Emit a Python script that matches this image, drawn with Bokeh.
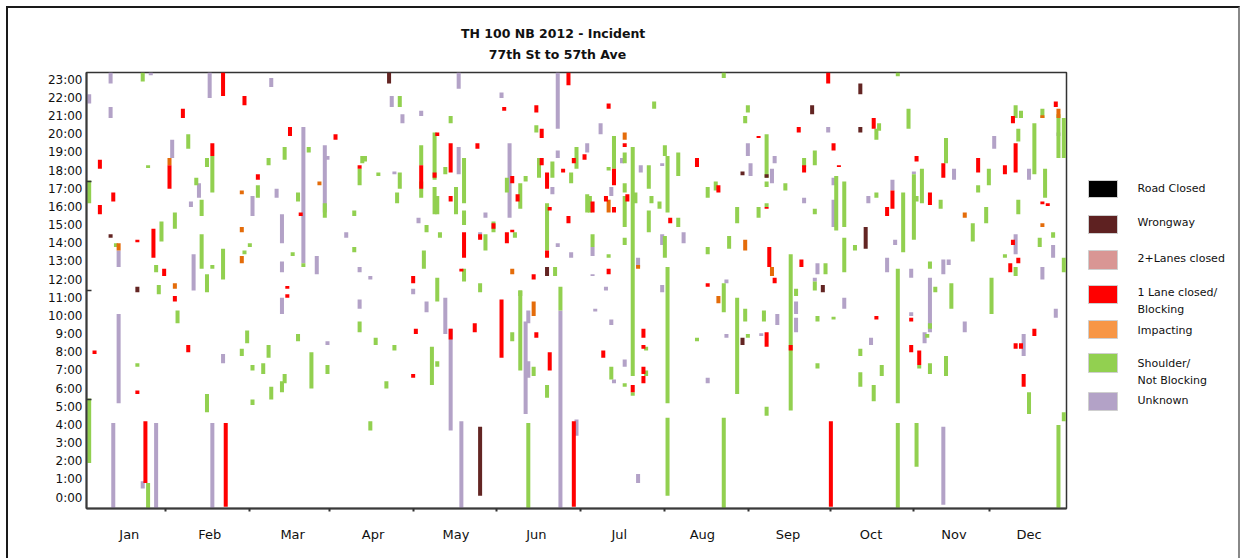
from bokeh.plotting import figure
from bokeh.layouts import column, row
from bokeh.models import FixedTicker, CustomJSTickFormatter, ColumnDataSource, Range1d
from bokeh.core.properties import value
from bokeh.embed import file_html
from bokeh.resources import INLINE

# ---------------- text ----------------
TITLE_1 = "TH 100 NB 2012  -  Incident"
TITLE_2 = "77th St to 57th Ave"

months = ["Jan", "Feb", "Mar", "Apr", "May", "Jun", "Jul", "Aug", "Sep", "Oct", "Nov", "Dec"]
month_label_days = [16, 46, 77, 107, 138, 168, 199, 230, 262, 293, 324, 352]
month_boundary_days = [29.5, 60.8, 90.7, 122.1, 153.0, 184.5, 215.8, 247.2, 277.8, 308.8, 337.2]
hour_label_pos = [h + 0.6 for h in range(24)]   # "h:00" labels sit 0.6 h above the hour
hour_minor = [6, 12, 18]

categories = ["Road Closed", "Wrongway", "2+Lanes closed", "1 Lane closed/\nBlocking",
              "Impacting", "Shoulder/\nNot Blocking", "Unknown"]
legend_colors = ["#000000", "#5E2121", "#D99694", "#FF0000", "#F79646", "#92D050", "#B3A2C7"]
bar_colors = ["#000000", "#632523", "#D99694", "#FF0000", "#E46C0A", "#92D050", "#B3A2C7"]

# ---------------- data: (day of year, start hour, end hour) ----------------
road_closed = []
lanes2_closed = []

wrongway = [
    (9, 14.9, 15.1), (19, 11.9, 12.2), (113, 23.4, 24.0), (147, 0.7, 4.5), (172, 12.8, 13.3),
    (245, 9.0, 9.4), (245, 18.35, 18.55), (254, 18.2, 18.4), (271, 21.7, 22.2), (275, 11.9, 12.3),
    (289, 22.8, 23.4), (289, 20.7, 21.0), (291, 14.3, 15.5)]

lane1_closed = [
    (5, 18.7, 19.2), (10, 16.9, 17.4), (5, 16.2, 16.7), (19, 14.65, 14.8), (25, 13.8, 15.4),
    (29, 12.8, 13.2), (31, 17.6, 18.9), (36, 21.5, 22.0), (47, 19.4, 20.1), (51, 22.7, 24.0),
    (59, 22.2, 22.7), (64, 18.1, 18.4), (75, 12.1, 12.25), (75, 11.6, 11.8), (76, 20.5, 21.0),
    (93, 20.3, 20.6), (80, 16.1, 16.3), (33, 11.4, 11.7), (3, 8.5, 8.7), (19, 6.3, 6.5),
    (38, 8.6, 9.0), (22, 1.4, 4.8), (52, 0.1, 4.7),
    (156, 21.9, 22.1), (168, 21.8, 22.2), (170, 20.4, 20.9), (131, 20.5, 20.7), (136, 18.5, 20.1),
    (146, 19.8, 20.1), (125, 17.6, 18.9), (130, 18.2, 18.5), (102, 18.7, 18.9), (136, 16.9, 17.2),
    (161, 16.9, 17.3), (159, 17.9, 18.3), (170, 18.9, 19.3), (172, 17.6, 18.5), (182, 19.0, 19.3),
    (186, 19.2, 19.5), (178, 18.5, 18.7), (173, 16.4, 16.6), (172, 13.8, 14.2), (180, 15.7, 16.1),
    (152, 15.4, 15.7), (147, 14.8, 15.1), (157, 14.6, 15.2), (159, 15.2, 15.35), (141, 13.8, 15.2),
    (122, 12.4, 12.8), (140, 13.05, 13.2), (167, 12.6, 12.9), (180, 23.3, 24.0),
    (136, 9.3, 9.9), (123, 9.6, 9.9), (145, 9.7, 10.2), (122, 7.2, 7.4), (155, 8.3, 11.5),
    (168, 9.4, 9.7), (173, 7.6, 8.6), (182, 0.1, 4.8),
    (277, 23.4, 24.0), (195, 22.0, 22.3), (201, 19.9, 20.1), (266, 20.7, 21.0), (251, 20.4, 20.5),
    (197, 17.8, 18.7), (202, 16.9, 17.3), (194, 16.9, 17.2), (197, 16.3, 16.6), (189, 16.3, 16.9),
    (195, 12.9, 13.2), (218, 15.7, 16.0), (228, 18.8, 19.3), (236, 17.4, 17.8), (232, 12.2, 12.4),
    (254, 16.5, 16.6), (255, 13.3, 14.4), (257, 12.4, 12.7), (268, 18.5, 18.9), (279, 19.7, 20.1),
    (281, 18.8, 18.9), (267, 13.3, 13.7), (263, 8.7, 9.0),
    (208, 9.4, 9.9), (208, 8.8, 9.0), (193, 8.3, 8.7), (204, 6.4, 6.8), (208, 7.4, 7.8), (208, 6.9, 7.3),
    (254, 8.9, 9.7), (278, 0.1, 4.8),
    (294, 20.9, 21.5), (362, 22.1, 22.4), (346, 21.2, 21.6), (347, 18.5, 20.1), (343, 18.4, 18.9),
    (310, 19.1, 19.4), (320, 18.2, 19.0), (333, 18.5, 19.3), (301, 16.5, 17.5), (299, 16.1, 16.6),
    (315, 16.7, 17.4), (357, 16.75, 16.9), (359, 16.65, 16.8), (345, 13.0, 13.5), (346, 14.5, 14.8),
    (348, 13.5, 13.8),
    (295, 10.4, 10.6), (308, 10.3, 10.5), (354, 9.5, 9.9), (308, 8.6, 9.0), (347, 8.8, 9.1),
    (349, 8.8, 9.1), (311, 7.9, 8.7), (350, 6.7, 7.4)]

impacting = [
    (31, 18.9, 19.3), (87, 17.8, 18.0), (58, 17.3, 17.5), (58, 15.2, 15.5), (58, 13.5, 13.9),
    (12, 14.2, 14.6), (33, 12.1, 12.4), (159, 12.9, 13.2), (167, 10.6, 11.4), (201, 20.3, 20.7),
    (195, 16.3, 17.0), (206, 13.2, 13.4), (236, 11.3, 11.7), (246, 14.2, 14.8), (256, 12.8, 13.3),
    (328, 16.0, 16.3), (357, 21.5, 21.65), (363, 21.5, 22.0), (357, 15.5, 15.7)]

unknown = [
    (1, 22.3, 22.8), (9, 23.4, 24.0), (9, 21.5, 22.1), (24, 23.85, 24.0), (46, 22.6, 24.0),
    (69, 23.2, 23.7), (81, 13.5, 21.0), (89, 16.3, 20.0), (90, 19.2, 19.4), (71, 17.1, 17.6),
    (62, 16.1, 17.2), (73, 14.6, 16.2), (73, 13.0, 13.6), (86, 12.9, 13.9), (40, 12.0, 14.0),
    (42, 17.1, 17.9), (39, 16.6, 16.9), (32, 19.3, 20.3), (12, 13.3, 14.2),
    (12, 5.8, 10.7), (10, 0.0, 4.7), (21, 1.1, 1.5), (26, 0.0, 4.7), (47, 0.0, 4.7), (51, 8.0, 8.5),
    (73, 10.7, 11.6), (90, 9.0, 9.2),
    (139, 23.1, 24.0), (176, 20.9, 24.0), (114, 22.1, 22.7), (118, 21.2, 21.7), (125, 21.6, 21.9),
    (155, 22.6, 22.9), (139, 18.4, 19.9), (158, 16.0, 20.1), (176, 19.3, 19.7), (187, 19.6, 20.1),
    (174, 17.3, 17.7), (115, 18.4, 18.55), (124, 15.7, 16.0), (149, 16.0, 16.3), (147, 14.9, 15.2),
    (97, 14.9, 15.2), (102, 13.0, 13.3), (106, 12.6, 12.8), (122, 11.8, 12.1), (176, 14.4, 14.6),
    (181, 13.8, 14.1), (177, 0.0, 10.9),
    (102, 11.0, 11.5), (127, 10.8, 11.4), (134, 9.6, 11.6), (136, 4.3, 9.9), (140, 0.0, 4.8),
    (164, 5.2, 10.3), (165, 10.2, 10.9), (165, 7.2, 8.1), (183, 4.0, 4.9),
    (192, 20.6, 21.2), (277, 20.7, 21.0), (200, 19.0, 19.3), (196, 17.2, 17.7), (189, 13.9, 14.4),
    (189, 12.8, 12.9), (194, 12.0, 12.2), (206, 13.3, 13.8), (207, 18.5, 18.9), (215, 18.85, 19.0),
    (215, 14.5, 15.1), (223, 14.6, 15.2), (215, 11.9, 12.3), (239, 12.4, 12.6), (247, 19.4, 20.1),
    (248, 18.3, 19.0), (256, 17.9, 18.7), (257, 19.0, 19.4), (268, 16.8, 17.1), (279, 17.8, 18.2),
    (279, 15.5, 17.0), (273, 12.9, 13.5), (272, 12.5, 12.7), (265, 10.7, 11.4), (265, 9.7, 10.5),
    (190, 10.85, 11.0), (196, 10.1, 10.4), (201, 7.8, 8.2), (197, 6.9, 7.1), (206, 1.4, 1.9),
    (258, 10.1, 10.7), (239, 9.4, 9.6), (252, 9.5, 9.65), (232, 6.9, 7.2), (283, 11.0, 11.6),
    (339, 19.8, 20.5), (352, 18.1, 18.7), (324, 18.1, 18.7), (309, 18.4, 18.55), (301, 17.5, 18.1),
    (292, 16.8, 17.2), (302, 14.5, 14.8), (347, 14.0, 15.1), (361, 13.8, 14.5), (357, 12.6, 13.3),
    (299, 13.0, 13.8), (308, 12.7, 13.2), (320, 12.9, 13.7), (322, 13.4, 13.7), (315, 9.7, 12.7),
    (363, 20.5, 20.7),
    (362, 10.5, 11.0), (308, 10.6, 10.8), (328, 9.7, 10.3), (313, 9.1, 9.7), (293, 9.0, 9.4),
    (350, 8.4, 9.6), (320, 0.2, 4.5)]

shoulder = [
    (1, 16.8, 18.05), (1, 2.5, 6.05), (21, 23.5, 24.0), (23, 18.75, 18.9), (79, 16.9, 17.4),
    (81, 13.3, 13.5), (83, 19.6, 19.9), (89, 16.0, 16.8), (74, 19.2, 19.9), (68, 18.9, 19.3),
    (64, 17.1, 17.8), (59, 14.0, 14.2), (61, 14.4, 14.6), (77, 13.9, 14.1), (51, 12.6, 14.3),
    (43, 13.2, 15.1), (47, 13.2, 13.4), (45, 11.9, 12.9), (43, 16.1, 17.0), (41, 17.8, 18.2),
    (47, 17.4, 19.4), (45, 18.8, 19.3), (38, 19.8, 20.6), (28, 14.7, 15.8), (33, 15.4, 16.3),
    (11, 14.4, 14.6), (26, 13.0, 13.4), (27, 11.8, 12.3),
    (34, 10.2, 10.9), (19, 7.8, 8.0), (45, 5.3, 6.3), (23, 0.0, 1.4), (60, 9.1, 9.8), (58, 8.4, 8.8),
    (62, 7.6, 7.9), (68, 8.3, 9.0), (66, 7.4, 8.0), (62, 5.7, 6.0), (69, 6.0, 6.7), (73, 6.4, 7.0),
    (74, 6.9, 7.4), (79, 9.2, 9.6), (84, 6.6, 8.6), (90, 7.4, 7.9),
    (117, 22.1, 22.7), (136, 21.2, 21.6), (168, 20.7, 21.1), (130, 18.1, 20.7), (134, 18.4, 18.8),
    (141, 16.8, 19.3), (125, 18.9, 20.0), (125, 17.1, 18.0), (103, 19.0, 19.4), (104, 19.1, 19.4),
    (102, 17.8, 18.7), (109, 18.3, 18.5), (117, 17.6, 18.5), (116, 16.8, 17.4), (130, 16.2, 17.7),
    (131, 16.2, 17.2), (138, 16.2, 17.7), (141, 15.6, 16.4), (157, 17.4, 18.2), (162, 16.5, 17.9),
    (164, 18.0, 18.3), (169, 18.2, 19.3), (174, 18.2, 19.1), (183, 18.7, 19.9), (181, 17.9, 18.5),
    (187, 16.3, 17.3), (172, 14.2, 16.8), (100, 16.1, 16.4), (127, 15.2, 15.6), (132, 14.9, 15.2),
    (152, 15.2, 15.8), (149, 14.2, 15.1), (160, 14.9, 15.2), (100, 14.1, 14.4), (126, 13.2, 14.2),
    (141, 12.5, 13.2), (131, 11.4, 12.7), (147, 11.9, 12.4), (175, 12.8, 13.3), (162, 11.7, 12.0),
    (177, 10.9, 12.2),
    (102, 9.7, 10.3), (108, 9.0, 9.4), (115, 8.7, 9.0), (129, 6.8, 8.9), (131, 7.8, 8.1),
    (112, 6.6, 7.0), (106, 4.3, 4.8), (159, 9.2, 9.7), (162, 7.6, 12.0), (167, 7.3, 7.8),
    (172, 6.1, 6.8), (165, 0.0, 4.7),
    (238, 23.7, 24.0), (212, 22.0, 22.4), (247, 21.8, 22.2), (246, 21.2, 21.6), (197, 18.7, 20.5),
    (195, 18.6, 18.8), (201, 19.0, 19.6), (204, 7.3, 19.9), (205, 16.8, 17.4), (201, 17.4, 17.9),
    (201, 15.5, 17.2), (188, 16.3, 17.2), (189, 14.4, 15.1), (195, 13.8, 14.0), (201, 14.5, 14.9),
    (210, 17.6, 18.9), (211, 16.8, 17.2), (210, 15.2, 16.4), (214, 16.5, 16.9), (216, 19.4, 20.0),
    (217, 16.3, 19.4), (221, 18.3, 19.6), (221, 15.5, 16.0), (216, 13.8, 15.0), (217, 5.8, 13.3),
    (217, 0.7, 5.0), (232, 17.1, 17.7), (235, 17.5, 18.0), (240, 14.3, 15.0), (232, 14.0, 14.4),
    (238, 10.8, 12.4), (238, 0.0, 5.0), (243, 15.7, 16.6), (251, 16.0, 16.6), (254, 18.2, 20.6),
    (254, 17.7, 18.0), (261, 17.5, 17.9), (263, 5.4, 14.0), (265, 11.7, 12.1), (268, 18.8, 19.3),
    (272, 18.9, 19.7), (272, 16.2, 16.5), (276, 12.9, 13.5), (272, 12.0, 12.5), (280, 15.3, 18.3),
    (283, 15.5, 18.0), (283, 13.0, 14.9), (254, 16.6, 16.8),
    (209, 8.7, 8.9), (196, 7.1, 7.8), (201, 6.7, 6.9), (209, 7.3, 7.6), (204, 6.2, 6.4),
    (246, 10.3, 11.0), (243, 6.3, 11.6), (253, 10.3, 10.9), (247, 9.4, 9.6), (228, 9.2, 9.4),
    (254, 5.1, 5.6), (273, 10.3, 10.6), (279, 10.4, 10.55), (273, 7.7, 8.0),
    (303, 23.8, 24.0), (295, 20.3, 20.9), (296, 20.8, 21.2), (307, 20.9, 22.0), (347, 21.5, 22.2),
    (349, 21.5, 21.9), (357, 21.5, 22.0), (363, 19.3, 21.7), (365, 19.3, 21.5), (354, 18.4, 21.2),
    (348, 20.2, 20.9), (321, 19.0, 20.4), (337, 17.8, 18.7), (333, 17.4, 17.8), (358, 17.1, 18.7),
    (309, 14.8, 18.4), (312, 16.8, 18.7), (310, 16.9, 17.2), (305, 14.1, 17.4), (295, 17.1, 17.4),
    (319, 16.5, 17.0), (336, 15.7, 16.6), (331, 14.7, 15.7), (348, 16.2, 17.0), (361, 14.9, 15.2),
    (356, 14.4, 14.9), (287, 14.2, 14.5), (343, 13.8, 14.0), (347, 12.8, 13.3), (365, 13.0, 13.8),
    (303, 5.8, 13.2), (303, 0.0, 4.7), (315, 13.2, 13.6), (317, 11.9, 12.2), (315, 9.9, 10.2),
    (314, 9.4, 9.6), (323, 11.0, 12.4), (338, 10.7, 12.7),
    (289, 8.4, 8.8), (311, 7.7, 7.9), (315, 7.4, 8.0), (321, 7.3, 8.4), (289, 6.7, 7.5),
    (294, 5.9, 6.8), (297, 7.3, 7.9), (352, 5.2, 6.4), (365, 4.8, 5.3), (363, 0.0, 4.6),
    (310, 2.3, 4.7)]

series = [road_closed, wrongway, lanes2_closed, lane1_closed, impacting, shoulder, unknown]

FONT = "DejaVu Sans"
DAYS = 366

# ---------------- layout sizes (page px) ----------------
TITLE_H = 58
CHART_W, CHART_H = 1070, 492
LEG_W = 160
FRAME_TOP, FRAME_BOTTOM = 72, 508     # page rows of the plotting frame (legend frame aligns to it)


def blank_fig(w, h, xr, yr):
    f = figure(width=w, height=h, x_range=xr, y_range=yr, output_backend="svg",
               toolbar_location=None, min_border=0, x_axis_location=None, y_axis_location=None,
               background_fill_color="white", border_fill_color="white")
    f.grid.visible = False
    f.outline_line_color = None
    return f


# ---- title strip: coordinates are page pixels ----
tf = blank_fig(CHART_W + LEG_W, TITLE_H, Range1d(8, 8 + CHART_W + LEG_W), Range1d(8 + TITLE_H, 8))
tf.text(x=[557, 557], y=[33, 54], text=[TITLE_1, TITLE_2], text_align="center",
        text_baseline="middle", text_font=value(FONT), text_font_style="bold",
        text_font_size="12.5px", text_color="#111111")

# ---- main chart ----
p = figure(width=CHART_W, height=CHART_H, x_range=(0, DAYS), y_range=(0, 24),
           output_backend="svg", toolbar_location=None,
           min_border_left=78, min_border_right=12, min_border_top=6, min_border_bottom=50,
           background_fill_color="white", border_fill_color="white")
p.xgrid.visible = False
p.ygrid.visible = False
p.outline_line_color = "#333333"
p.outline_line_width = 1.5

# draw order: unknown, shoulder, impacting, 1 lane, 2+ lanes, wrongway, road closed
for idx in [6, 5, 4, 3, 2, 1, 0]:
    data = series[idx]
    if not data:
        continue
    src = ColumnDataSource(dict(x=[d[0] for d in data],
                                bottom=[d[1] for d in data],
                                top=[d[2] for d in data]))
    p.vbar(x="x", bottom="bottom", top="top", width=1.5, source=src,
           fill_color=bar_colors[idx], line_color=None)

p.xaxis.ticker = FixedTicker(ticks=month_label_days, minor_ticks=month_boundary_days)
p.xaxis.major_label_overrides = {d: m for d, m in zip(month_label_days, months)}
p.xaxis.major_tick_line_color = None
p.xaxis.major_tick_in = 0
p.xaxis.major_tick_out = 0
p.xaxis.minor_tick_in = 0
p.xaxis.minor_tick_out = 3
p.xaxis.minor_tick_line_width = 2
p.xaxis.minor_tick_line_color = "#333333"
p.xaxis.major_label_standoff = 15
p.xaxis.major_label_text_font = FONT
p.xaxis.major_label_text_font_size = "13px"
p.xaxis.major_label_text_color = "#111111"

p.yaxis.ticker = FixedTicker(ticks=hour_label_pos, minor_ticks=hour_minor)
p.yaxis.formatter = CustomJSTickFormatter(code="return Math.round(tick - 0.6) + ':00';")
p.yaxis.major_tick_line_color = None
p.yaxis.major_tick_in = 0
p.yaxis.major_tick_out = 0
p.yaxis.minor_tick_in = 5
p.yaxis.minor_tick_out = 0
p.yaxis.minor_tick_line_width = 1.5
p.yaxis.minor_tick_line_color = "#333333"
p.yaxis.major_label_standoff = 4
p.yaxis.major_label_text_font = FONT
p.yaxis.major_label_text_font_size = "12px"
p.yaxis.major_label_text_color = "#111111"
for ax in (p.xaxis, p.yaxis):
    ax.axis_line_color = "#3a3a3a"
    ax.axis_line_width = 2

# ---- legend panel: coordinates are page pixels (its frame is row-aligned with the chart frame) ----
LX0 = 8 + CHART_W
lf = blank_fig(LEG_W, CHART_H, Range1d(LX0, LX0 + LEG_W), Range1d(FRAME_BOTTOM, FRAME_TOP))
swatch_rows = [(180, 197), (215, 233), (250, 269), (285, 303), (320, 338), (353, 372), (392, 410)]
label_rows = [[188], [222], [258], [292, 309], [330], [363, 380], [400]]
lf.quad(left=[1088] * 7, right=[1117] * 7,
        top=[r[0] for r in swatch_rows], bottom=[r[1] for r in swatch_rows],
        fill_color=legend_colors, line_color="#cfcfcf", line_width=1)
lab_x, lab_y, lab_t = [], [], []
for i, cat in enumerate(categories):
    for line, ypx in zip(cat.split("\n"), label_rows[i]):
        lab_x.append(1137)
        lab_y.append(ypx)
        lab_t.append(line)
lf.text(x=lab_x, y=lab_y, text=lab_t, text_align="left", text_baseline="middle",
        text_font=value(FONT), text_font_size="11px", text_color="#111111")

layout = column(tf, row(p, lf),
                styles={"margin": "6px 0 0 6px", "border-top": "2px solid #1a1a1a",
                        "border-left": "2px solid #1a1a1a", "border-right": "2px solid #888888"})

open("out.html", "w").write(file_html(layout, INLINE))
